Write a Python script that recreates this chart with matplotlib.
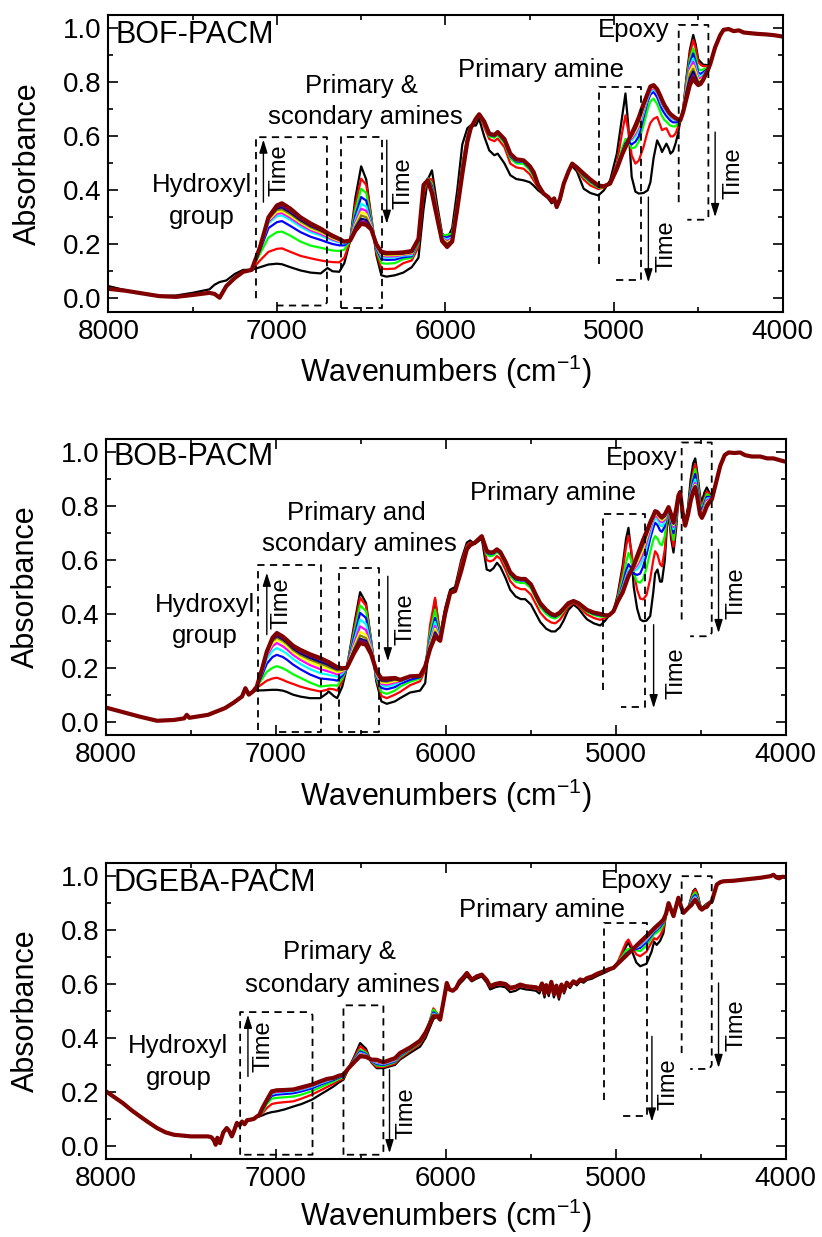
import matplotlib
matplotlib.use("Agg")
import matplotlib.pyplot as plt
from matplotlib.ticker import MultipleLocator, FixedLocator

plt.rcParams['font.family'] = ['Liberation Sans', 'DejaVu Sans']
plt.rcParams['mathtext.fontset'] = 'custom'
plt.rcParams['mathtext.rm'] = 'Liberation Sans'
plt.rcParams['mathtext.it'] = 'Liberation Sans:italic'
plt.rcParams['mathtext.bf'] = 'Liberation Sans:bold'

# ---------------------------------------------------------------- data
# curve order (time increasing): black, red, green, blue, cyan, magenta,
# yellow, olive, navy, purple, wine.  Each row: (wavenumber, values...);
# when a row lists fewer than 11 values, the remaining curves share the last one.
CURVE_COLORS = ['#000000', '#ff0000', '#00ff00', '#0000ff', '#00ffff', '#ff00ff',
                '#ffff00', '#808000', '#000080', '#800080', '#800000']

BOF_PACM = [
    (8000, .045, .035), (7900, .030, .028), (7800, .018), (7700, .008),
    (7600, .010, .005), (7500, .020, .012), (7400, .033, .020), (7370, .050, .016),
    (7340, .060, .002), (7300, .066, .045), (7250, .090, .075), (7200, .105, .098),
    (7150, .105),
    (7100, .115, .140, .165, .178, .183, .186, .188, .190),
    (7050, .125, .172, .225, .260, .278, .284, .289, .293, .296, .299, .300),
    (7000, .128, .183, .245, .282, .304, .313, .320, .327, .333, .339, .344),
    (6970, .126, .185, .247, .286, .307, .316, .323, .330, .337, .343, .352),
    (6920, .115, .172, .232, .268, .290, .298, .305, .312, .318, .324, .332),
    (6860, .103, .157, .210, .245, .265, .273, .280, .285, .290, .295, .300),
    (6800, .095, .148, .195, .228, .245, .252, .258, .263, .268, .272, .277),
    (6740, .092, .140, .187, .216, .232, .238, .244, .248, .252, .255, .258),
    (6700, .112, .136, .181, .207, .222, .227, .232, .235, .238, .240, .242),
    (6670, .100, .134, .177, .201, .214, .218, .222, .225, .228, .230, .232),
    (6630, .098, .133, .175, .196, .207, .210, .213, .216, .218, .219, .220),
    (6600, .130, .150, .180, .196, .203, .206, .208, .209, .210),
    (6565, .214),
    (6535, .370, .345, .325, .305, .290, .280, .272, .266, .260, .255, .250),
    (6500, .489, .443, .406, .375, .350, .332, .319, .307, .295, .286, .276),
    (6470, .440, .420, .390, .362, .340, .324, .312, .300, .290, .282, .272),
    (6440, .300, .300, .290, .280, .275, .270, .265, .262, .260, .257, .255),
    (6410, .160, .170, .180, .185, .190, .192, .194, .196, .198, .200),
    (6380, .085, .110, .130, .145, .153, .158, .162, .165, .167, .169, .172),
    (6350, .080, .108, .128, .142, .150, .155, .159, .162, .164, .166, .168),
    (6300, .085, .110, .130, .143, .151, .156, .160, .163, .165, .167, .168),
    (6250, .095, .130, .145, .152, .158, .161, .163, .165, .167, .168, .170),
    (6200, .115, .140, .150, .156, .160, .165, .168, .170, .172, .174, .175),
    (6160, .150, .190, .205, .212, .216, .218, .220),
    (6130, .330, .380, .400, .410, .415, .418, .420),
    (6105, .440, .445, .445, .443, .442, .441, .440, .439, .438, .437),
    (6080, .474, .440, .425, .415, .408, .402, .398, .395, .393, .391, .390),
    (6050, .350, .330, .320, .315, .312, .310, .308, .306, .304, .302, .300),
    (6020, .240, .235, .232, .228, .225, .222, .220, .218, .216, .214, .212),
    (5990, .220, .230, .235, .225, .218, .212, .206, .202, .198, .195, .190),
    (5960, .260, .240, .240, .232, .226, .222, .218, .215, .213, .211, .210),
    (5930, .400, .360, .350, .345, .340, .338, .336, .334, .333, .332, .330),
    (5900, .570, .500, .490, .482, .476, .472, .469, .466, .464, .462, .460),
    (5870, .630, .600, .595, .590, .587, .585, .583, .582, .581, .580),
    (5850, .641, .640, .637, .635, .633, .632, .631, .630),
    (5820, .640, .660, .662, .663, .664, .665),
    (5800, .665, .680, .682),
    (5770, .600, .635, .645, .650, .652, .654, .655),
    (5740, .548, .590, .600, .605, .607, .608, .609, .610),
    (5710, .530, .582, .595, .600, .602, .603, .604, .605),
    (5690, .536, .592, .605, .610, .612, .613, .614, .615, .616),
    (5650, .500, .560, .575, .582, .585, .587, .588, .589, .590),
    (5615, .456, .499, .518, .526, .530, .532, .533, .534, .535, .536),
    (5580, .442, .485, .500, .507, .510, .512, .513, .514, .515),
    (5536, .437, .480, .498, .505, .507, .508, .509, .510, .511),
    (5500, .430, .460, .475, .482, .485, .487, .488, .489, .490),
    (5477, .418, .437, .450, .458, .462, .464, .466, .467, .468),
    (5450, .400, .410, .415, .418, .419, .420),
    (5418, .385, .388), (5390, .370, .375), (5370, .352, .360), (5355, .362, .370),
    (5340, .335, .338), (5320, .360, .370), (5298, .420, .425), (5270, .470),
    (5248, .490, .497, .499),
    (5220, .470, .478, .482, .484, .485),
    (5180, .406, .440, .450, .455, .458, .460, .461, .462),
    (5140, .390, .418, .428, .433, .436, .438, .439, .440),
    (5093, .381, .405, .410, .413, .415, .416, .417, .418),
    (5060, .400, .410, .412, .413, .414, .415),
    (5023, .437, .430, .427, .426, .425),
    (4983, .536, .500, .490, .485, .482, .481, .481, .480),
    (4950, .680, .620, .560, .545, .540, .538, .537, .536, .536, .535),
    (4932, .759, .678, .590, .575, .568, .565, .563, .562, .561, .560),
    (4915, .640, .620, .585, .580, .585),
    (4895, .450, .530, .555, .570, .585, .592, .597, .601, .604, .607, .610),
    (4873, .395, .499, .560, .580, .600, .610, .618, .625, .630, .635, .640),
    (4853, .388, .510, .580, .600, .625, .635, .645, .653, .660, .665, .670),
    (4825, .390, .560, .640, .670, .685, .695, .702, .708, .713, .717, .720),
    (4800, .400, .620, .700, .730, .740, .747, .752, .755, .757, .759, .760),
    (4784, .430, .650, .730, .755, .765, .772, .777, .780, .782, .784, .785),
    (4765, .520, .665, .740, .765, .775, .780, .784, .786, .788, .789, .790),
    (4744, .585, .672, .720, .745, .760, .765, .769, .771, .773, .774, .775),
    (4725, .560, .640, .690, .715, .730, .737, .742, .745, .747, .748, .750),
    (4715, .542, .623, .675, .700, .715, .722, .726, .729, .731, .733, .735),
    (4700, .560, .628, .660, .685, .700, .705, .709, .711, .713, .714, .715),
    (4689, .573, .630, .655, .675, .690, .695, .699, .701, .703, .704, .705),
    (4675, .555, .612, .645, .665, .678, .683, .686, .688, .689, .690),
    (4665, .536, .600, .640, .658, .670, .675, .678, .680, .681, .682, .683),
    (4650, .545, .600, .637, .652, .663, .667, .670, .672, .673, .674, .675),
    (4635, .573, .610, .637, .652, .660, .662, .664, .665, .666, .667, .668),
    (4620, .610, .635, .650, .655, .660, .660, .661, .662, .662, .663),
    (4606, .660),
    (4590, .700, .690),
    (4570, .820, .810, .800, .790, .785, .780, .775, .770, .765, .755, .740),
    (4550, .920, .905, .885, .870, .860, .850, .840, .830, .815, .800, .790),
    (4530, .976, .957, .926, .907, .889, .876, .863, .851, .840, .827, .815),
    (4515, .940, .925, .895, .875, .860, .848, .837, .826, .818, .810, .800),
    (4500, .885, .875, .850, .835, .825, .815, .808, .802, .797, .793, .790),
    (4485, .875, .865, .845, .832, .822, .815, .808, .803, .800, .797, .795),
    (4470, .865, .860, .848, .838, .830, .824, .820, .817, .815, .813, .810),
    (4455, .865, .860, .852, .845, .840, .837, .835, .834, .832, .831, .830),
    (4440, .862, .860, .858, .856, .855, .854, .853, .852, .851, .850),
    (4428, .870), (4400, .930), (4370, .975), (4350, .995), (4320, .998),
    (4290, .990), (4260, .993), (4230, .985), (4200, .983), (4150, .980),
    (4100, .978), (4050, .975), (4000, .970),
]

BOB_PACM = [
    (8000, .052), (7900, .035), (7800, .018), (7700, .003), (7600, .006),
    (7540, .012), (7525, .025), (7510, .014), (7400, .025), (7300, .050),
    (7250, .070), (7200, .093), (7180, .124), (7160, .100), (7135, .112),
    (7113, .116, .125, .130),
    (7080, .116, .140, .160, .175, .185, .190, .195, .198, .200),
    (7054, .117, .152, .185, .215, .233, .245, .252, .257, .260),
    (7020, .118, .160, .200, .240, .263, .280, .291, .299, .305, .309, .312),
    (6995, .118, .163, .206, .248, .273, .292, .304, .312, .318, .323, .329),
    (6960, .115, .155, .198, .240, .262, .280, .292, .300, .306, .311, .316),
    (6936, .110, .148, .190, .230, .252, .268, .280, .288, .294, .299, .303),
    (6900, .100, .140, .176, .212, .233, .248, .258, .266, .272, .277, .282),
    (6858, .093, .130, .163, .195, .215, .230, .240, .248, .254, .260, .267),
    (6800, .087, .120, .145, .175, .195, .210, .220, .230, .237, .244, .250),
    (6740, .087, .112, .130, .160, .180, .195, .205, .215, .222, .230, .236),
    (6700, .105, .118, .133, .158, .175, .188, .198, .206, .213, .219, .224),
    (6690, .112, .122, .134, .157, .173, .186, .195, .203, .210, .216, .221),
    (6660, .095, .120, .135, .155, .170, .180, .188, .195, .200, .205, .210),
    (6640, .087, .115, .133, .152, .166, .175, .183, .190, .195, .199, .202),
    (6610, .130, .150, .160, .170, .178, .184, .188, .192, .195, .197, .198),
    (6583, .200),
    (6540, .360, .345, .330, .315, .300, .290, .280, .272, .265, .260, .255),
    (6505, .481, .460, .432, .404, .379, .354, .333, .320, .308, .302, .292),
    (6470, .440, .430, .410, .385, .362, .340, .322, .310, .300, .294, .285),
    (6440, .300, .300, .295, .288, .282, .276, .270, .265, .260, .255, .250),
    (6410, .150, .160, .165, .170, .175, .178, .181, .184, .186, .188, .190),
    (6380, .075, .095, .110, .125, .135, .140, .145, .150, .153, .156, .160),
    (6348, .066, .087, .103, .120, .130, .137, .143, .148, .152, .156, .160),
    (6300, .075, .100, .115, .128, .138, .145, .150, .155, .158, .160, .162),
    (6270, .087, .110, .130, .140, .147, .150, .152, .153, .154, .155),
    (6211, .108, .135, .148, .155, .165, .166, .167, .168),
    (6152, .115, .150, .160, .165, .172, .171, .170),
    (6122, .143, .190, .200, .205),
    (6093, .330, .360, .330, .310, .300, .290, .285, .280, .275, .272, .270),
    (6064, .455, .460, .416, .385, .370, .355, .345, .335, .330, .325, .315),
    (6034, .320, .320, .315, .310, .308, .306, .305, .304, .303, .302, .300),
    (6005, .420, .410, .405, .402, .400),
    (5975, .490, .482, .480, .479, .478),
    (5946, .500, .490, .487, .486, .485),
    (5910, .600, .590, .575, .568, .565, .563, .562, .561, .560),
    (5877, .665, .655, .648, .645, .643, .642, .641, .640),
    (5858, .673, .665, .660, .658, .657, .656, .655),
    (5830, .660, .665),
    (5789, .680, .685, .687, .688, .689),
    (5760, .565, .600, .620, .628, .632, .634, .635),
    (5740, .560, .595, .614, .622, .625, .627, .628),
    (5720, .570, .600, .618, .625, .628, .629, .630),
    (5700, .590, .615, .630, .635, .638, .639, .640),
    (5680, .575, .605, .620, .625, .628, .629, .630),
    (5650, .535, .565, .582, .589, .592, .594, .595),
    (5622, .490, .522, .540, .548, .552, .554, .555),
    (5590, .465, .500, .520, .528, .532, .534, .535),
    (5560, .455, .492, .515, .524, .528, .530),
    (5534, .455, .492, .515, .524, .528, .530),
    (5500, .435, .472, .495, .504, .508, .510),
    (5470, .400, .435, .456, .464, .468, .470),
    (5445, .370, .405, .425, .433, .437, .440),
    (5410, .345, .380, .400, .408, .412, .415),
    (5380, .335, .368, .387, .394, .398, .400),
    (5357, .335, .365, .383, .390, .393, .395),
    (5330, .350, .378, .394, .400, .403, .405),
    (5308, .375, .398, .410, .415, .418, .420),
    (5280, .415, .428, .435, .438, .440),
    (5249, .435, .442, .445, .447, .448),
    (5220, .420, .430, .436, .439, .440),
    (5190, .395, .410, .418, .422, .425),
    (5170, .380, .398, .407, .412, .415),
    (5130, .365, .385, .396, .400, .403, .405),
    (5092, .357, .378, .390, .395, .398, .400),
    (5063, .375, .385, .390, .393, .395),
    (5040, .395), (5014, .410),
    (4990, .470, .460, .455, .450, .448, .447, .446, .446, .445),
    (4960, .580, .560, .530, .510, .500, .495, .490, .487, .485, .482, .480),
    (4940, .680, .650, .590, .560, .540, .530, .520, .517, .515),
    (4926, .720, .690, .627, .585, .565, .555, .550, .545, .542, .541, .540),
    (4910, .630, .640, .600, .570, .565, .562, .560),
    (4895, .500, .560, .550, .550, .560, .565, .570, .573, .576, .578, .580),
    (4875, .420, .490, .520, .545, .565, .580, .590, .600, .606, .610, .615),
    (4857, .380, .457, .516, .550, .580, .600, .615, .627, .635, .640, .645),
    (4840, .373, .454, .530, .575, .605, .625, .640, .652, .662, .668, .675),
    (4820, .375, .470, .570, .620, .645, .665, .680, .690, .695, .700, .705),
    (4798, .392, .530, .630, .680, .700, .715, .725, .730, .735, .738, .740),
    (4780, .480, .600, .675, .720, .740, .750, .755, .760, .762, .764, .765),
    (4769, .550, .633, .689, .739, .755, .765, .772, .776, .779, .781, .782),
    (4755, .565, .620, .680, .730, .750, .760, .768, .772, .775, .777, .778),
    (4740, .520, .585, .660, .710, .730, .745, .752, .758, .761, .763, .765),
    (4729, .520, .577, .655, .705, .725, .740, .747, .752, .756, .758, .760),
    (4712, .600, .640, .690, .725, .740, .750, .757, .762, .765, .767, .770),
    (4700, .720, .740, .760, .770, .775, .778, .780, .782, .783, .784, .785),
    (4690, .780, .790, .795, .796, .797),
    (4675, .680, .700, .720, .740, .750, .757, .762, .765, .767, .768, .770),
    (4661, .628, .650, .675, .700, .715, .723, .730, .734, .737, .739, .740),
    (4645, .720, .740, .755, .765, .775, .780, .783, .785, .787, .788, .790),
    (4632, .830, .832, .835, .837, .838, .839, .839, .840),
    (4622, .852, .853),
    (4608, .760, .765, .770, .775, .777, .778, .779, .780),
    (4592, .740, .730, .730, .730, .729, .729, .728),
    (4575, .800, .785, .780, .775, .773, .772, .771, .771, .770),
    (4560, .900, .870, .860, .850, .840, .835, .830, .827, .824, .822, .820),
    (4545, .960, .930, .910, .895, .880, .870, .865, .862, .859, .857, .855),
    (4533, .978, .957, .938, .920, .900, .887, .880, .876, .873, .871, .870),
    (4520, .920, .905, .890, .870, .855, .848, .843, .838, .835, .832, .830),
    (4505, .840, .825, .810, .800, .790, .785, .780, .777, .774, .772, .770),
    (4494, .814, .800, .790, .780, .772, .768, .765, .762, .760, .758, .757),
    (4480, .850, .830, .820, .810, .800, .795, .790, .785, .780, .778, .775),
    (4465, .870, .855, .845, .835, .828, .822, .815, .810, .806, .803, .800),
    (4450, .850, .845, .840, .835, .830, .826, .822, .820, .818, .816, .815),
    (4435, .835, .830, .828, .827, .826),
    (4410, .890), (4386, .950), (4360, .990), (4337, 1.000), (4300, .998),
    (4269, 1.000), (4240, .990), (4200, .985), (4151, .985), (4110, .978),
    (4073, .978), (4040, .972), (4004, .966),
]

DGEBA_PACM = [
    (8000, .202), (7950, .180), (7900, .158), (7850, .132), (7800, .109),
    (7750, .087), (7700, .066), (7650, .050), (7600, .041), (7500, .035),
    (7400, .035), (7380, .032), (7365, .020), (7355, .004), (7345, .030),
    (7330, .010), (7310, .050), (7290, .066), (7275, .055), (7260, .035),
    (7250, .050), (7230, .085), (7215, .075), (7200, .090), (7185, .080),
    (7170, .095), (7150, .097), (7130, .100), (7110, .110), (7100, .109, .112),
    (7080, .113, .120, .125, .130, .133, .135, .137, .138, .139, .140),
    (7054, .120, .140, .155, .162, .165, .167, .168, .169, .170),
    (7025, .125, .155, .175, .185, .192, .196, .199, .200, .201, .202),
    (6995, .128, .159, .178, .190, .197, .200, .203, .205, .206),
    (6950, .135, .162, .180, .192, .199, .202, .205, .206, .207),
    (6897, .146, .165, .183, .195, .202, .205, .207, .208, .209),
    (6850, .155, .175, .190, .202, .208, .211, .214, .215, .216, .217),
    (6789, .171, .190, .203, .213, .219, .222, .224, .225, .226, .227),
    (6740, .190, .205, .217, .226, .231, .234, .236, .237, .238, .239),
    (6700, .205, .218, .228, .236, .240, .243, .245, .246, .247, .248),
    (6662, .220, .230, .238, .244, .248, .250, .251, .252),
    (6630, .235, .242, .248, .253, .256, .258, .259, .260),
    (6603, .245, .250, .255, .258, .261, .262, .263, .264),
    (6573, .288),
    (6540, .330, .325, .320, .318, .316, .314, .312, .311, .310),
    (6505, .381, .369, .356, .350, .345, .342, .339, .337, .335, .334, .332),
    (6470, .360, .352, .345, .340, .337, .335, .333, .332, .331, .330),
    (6440, .310, .312, .315, .316, .317, .318, .319, .320),
    (6407, .288, .292, .298, .303, .307, .310, .313, .315, .317, .318, .319),
    (6368, .288, .292, .296, .300, .303, .305, .307, .308, .309, .310),
    (6300, .300, .305, .310, .313, .316, .318, .320, .322, .323, .324, .325),
    (6270, .320, .325, .330, .334, .337, .339, .341, .342, .343, .344),
    (6210, .345, .352, .357, .360, .362, .364, .365),
    (6152, .368, .378, .383, .386, .388, .390),
    (6120, .400, .410, .415, .418, .420),
    (6074, .470, .510, .505, .495, .490, .487, .485, .483, .482, .481, .480),
    (6050, .480, .490, .488, .485, .483, .481, .480),
    (6034, .468), (6010, .550), (5995, .604), (5980, .580), (5960, .575),
    (5940, .585),
    (5920, .600, .605, .610), (5897, .615, .620, .625), (5877, .630, .637, .641),
    (5848, .610, .614, .616), (5820, .620, .625, .628), (5789, .628, .632, .635),
    (5760, .605, .612, .615), (5740, .580, .588, .592), (5710, .588, .596, .600),
    (5681, .592, .600, .604), (5650, .588, .596, .600), (5622, .570, .580, .586),
    (5590, .575, .585, .590), (5563, .585, .593, .598), (5530, .580, .588, .592),
    (5500, .578, .585, .590), (5470, .575, .583, .588), (5450, .565, .575, .580),
    (5435, .590, .598, .602), (5420, .550, .560, .565), (5410, .585, .592, .596),
    (5395, .555, .565, .570), (5380, .600, .605, .608), (5365, .550, .560, .565),
    (5350, .580, .590, .594), (5335, .542, .550, .555), (5320, .590, .595, .598),
    (5305, .565, .570, .575), (5289, .598, .602, .605), (5270, .585, .590, .593),
    (5250, .605, .608, .610), (5230, .595, .600, .603), (5210, .610, .614, .617),
    (5190, .605, .610, .613), (5170, .615, .619, .622), (5140, .620, .625, .628),
    (5110, .630, .635, .638), (5073, .640, .644, .647), (5040, .650, .653, .655),
    (5014, .660),
    (4990, .680, .680, .678, .677, .676, .675),
    (4960, .710, .725, .705, .698, .696, .695, .694, .694, .693),
    (4940, .740, .755, .725, .713, .709, .707, .706, .706, .705),
    (4926, .755, .765, .730, .720, .717, .716, .715, .715, .714),
    (4910, .730, .745, .730, .725, .724, .723),
    (4880, .680, .710, .725, .730, .735, .737, .739, .740, .741, .741, .742),
    (4857, .666, .703, .722, .734, .742, .747, .750, .752, .754, .755, .756),
    (4820, .675, .720, .742, .755, .763, .768, .771, .773, .775, .777, .778),
    (4790, .720, .755, .770, .780, .786, .789, .791, .793, .794, .795, .796),
    (4775, .757, .770, .785, .792, .797, .800, .802, .803, .804, .805, .806),
    (4760, .745, .765, .790, .800, .804, .806, .808, .810, .812, .814, .815),
    (4740, .760, .780, .800, .812, .818, .821, .823, .824, .825, .825, .826),
    (4720, .789, .805, .820, .828, .832, .834, .836, .837, .838, .838, .839),
    (4705, .860), (4690, .900), (4675, .875), (4661, .850, .852), (4645, .890),
    (4632, .920), (4615, .885), (4602, .862, .864), (4585, .875),
    (4570, .890, .888, .887, .886, .885),
    (4555, .925, .920, .913, .907, .903, .900, .898, .896, .895, .894, .893),
    (4545, .945, .940, .930, .922, .916, .912, .909, .907, .905, .904, .903),
    (4533, .953, .950, .940, .930, .924, .920, .917, .915, .914, .913, .912),
    (4520, .935, .930, .922, .915, .910, .906, .904, .902, .901, .900),
    (4505, .895, .893, .890, .887, .885, .884, .883, .882),
    (4494, .880, .878, .877, .876),
    (4480, .890, .888, .886, .885, .884, .883),
    (4465, .898, .896, .894, .892, .890, .889, .888, .887, .886),
    (4450, .900), (4435, .907), (4420, .940), (4406, .969), (4385, .978),
    (4367, .981), (4308, .983), (4250, .987), (4210, .990), (4150, .994),
    (4112, .998), (4090, 1.000), (4073, 1.005), (4055, .995), (4040, .992),
    (4020, .998), (4004, .997),
]

PANEL_NAMES = ['BOF-PACM', 'BOB-PACM', 'DGEBA-PACM']
X_TICKS = [8000, 7000, 6000, 5000, 4000]
Y_TICKS = [0.0, 0.2, 0.4, 0.6, 0.8, 1.0]


def expand(rows, n=11):
    wn = [r[0] for r in rows]
    cols = [[] for _ in range(n)]
    for r in rows:
        vals = list(r[1:])
        vals += [vals[-1]] * (n - len(vals))
        for c, v in zip(cols, vals):
            c.append(v)
    return wn, cols


# ---------------------------------------------------------------- figure
fig = plt.figure(figsize=(8.22, 12.37), dpi=100)
rects = [[0.1318, 0.748, 0.8202, 0.2399],
         [0.1290, 0.4058, 0.8270, 0.2393],
         [0.1290, 0.0628, 0.8270, 0.2398]]
axes = [fig.add_axes(r) for r in rects]

TICK_FS = 20
LABEL_FS = 22
ANN_FS = 18.5
TIME_FS = 17


def draw_box(ax, pts):
    xs, ys = zip(*pts)
    ax.plot(xs, ys, color='k', lw=1.3, ls=(0, (4.0, 3.0)), zorder=5)


def time_arrow(ax, x, y0, y1, tx, ty):
    ax.annotate('', xy=(x, y1), xytext=(x, y0),
                arrowprops=dict(arrowstyle='-|>,head_length=0.8,head_width=0.25',
                                color='k', lw=1.0, shrinkA=0, shrinkB=0), zorder=6)
    ax.text(tx, ty, 'Time', rotation=90, fontsize=TIME_FS, ha='center', va='center')


for k, (ax, rows, name) in enumerate(zip(axes, [BOF_PACM, BOB_PACM, DGEBA_PACM], PANEL_NAMES)):
    wn, curves = expand(rows)
    for i, (vals, col) in enumerate(zip(curves, CURVE_COLORS)):
        lw = 3.0 if i == len(curves) - 1 else 1.6
        ax.plot(wn, vals, color=col, lw=lw, zorder=2 + i * 0.01,
                solid_joinstyle='round')
    ax.set_xlim(8000, 4000)
    ax.set_ylim(-0.05, 1.05)
    ax.xaxis.set_major_locator(FixedLocator(X_TICKS))
    ax.xaxis.set_minor_locator(MultipleLocator(500))
    ax.yaxis.set_major_locator(FixedLocator(Y_TICKS))
    ax.yaxis.set_minor_locator(MultipleLocator(0.1))
    ax.set_xticklabels([str(t) for t in X_TICKS])
    ax.set_yticklabels(['%.1f' % t for t in Y_TICKS])
    ax.tick_params(which='both', direction='in', top=True, right=True,
                   labelsize=TICK_FS, width=1.2, pad=5)
    ax.tick_params(which='major', length=7)
    ax.tick_params(which='minor', length=3.5)
    for s in ax.spines.values():
        s.set_linewidth(1.5)
    ax.set_xlabel('Wavenumbers (cm$^{-1}$)', fontsize=LABEL_FS,
                  labelpad=6 if k < 2 else 3)
    ax.set_ylabel('Absorbance', fontsize=LABEL_FS, labelpad=14)
    ax.text(7955, 0.975 if name != 'BOB-PACM' else 0.985, name, fontsize=22,
            ha='left', va='center')

# ---- panel 1 annotations
a = axes[0]
a.text(7443, 0.418, 'Hydroxyl', fontsize=ANN_FS, ha='center', va='center')
a.text(7443, 0.300, 'group', fontsize=ANN_FS, ha='center', va='center')
a.text(6498, 0.786, 'Primary &', fontsize=ANN_FS, ha='center', va='center')
a.text(6477, 0.671, 'scondary amines', fontsize=ANN_FS, ha='center', va='center')
a.text(5433, 0.846, 'Primary amine', fontsize=ANN_FS, ha='center', va='center')
a.text(4884, 0.994, 'Epoxy', fontsize=ANN_FS, ha='center', va='center')
draw_box(a, [(7124, 0.0), (7124, 0.597), (6703, 0.597), (6703, -0.015),
             (6715, -0.027), (7000, -0.027)])
draw_box(a, [(6621, -0.036), (6621, 0.598), (6378, 0.598), (6378, -0.036), (6621, -0.036)])
draw_box(a, [(5087, 0.128), (5087, 0.784), (4841, 0.784), (4841, 0.066), (4994, 0.066)])
draw_box(a, [(4616, 0.356), (4616, 1.013), (4440, 1.013), (4440, 0.30),
             (4455, 0.291), (4565, 0.291)])
time_arrow(a, 7080, 0.356, 0.588, 6985, 0.474)
time_arrow(a, 6348, 0.586, 0.276, 6246, 0.426)
time_arrow(a, 4796, 0.375, 0.059, 4687, 0.192)
time_arrow(a, 4400, 0.616, 0.301, 4292, 0.462)

# ---- panel 2 annotations
a = axes[1]
a.text(7417, 0.435, 'Hydroxyl', fontsize=ANN_FS, ha='center', va='center')
a.text(7417, 0.317, 'group', fontsize=ANN_FS, ha='center', va='center')
a.text(6529, 0.776, 'Primary and', fontsize=ANN_FS, ha='center', va='center')
a.text(6511, 0.658, 'scondary amines', fontsize=ANN_FS, ha='center', va='center')
a.text(5369, 0.851, 'Primary amine', fontsize=ANN_FS, ha='center', va='center')
a.text(4847, 0.978, 'Epoxy', fontsize=ANN_FS, ha='center', va='center')
draw_box(a, [(7103, -0.03), (7103, 0.581), (6736, 0.581), (6736, -0.037), (7006, -0.037)])
draw_box(a, [(6631, -0.037), (6631, 0.569), (6396, 0.569), (6396, -0.037), (6631, -0.037)])
draw_box(a, [(5078, 0.118), (5078, 0.773), (4826, 0.773), (4826, 0.054), (4972, 0.054)])
draw_box(a, [(4613, 0.379), (4613, 1.037), (4436, 1.037), (4436, 0.33),
             (4450, 0.317), (4563, 0.317)])
time_arrow(a, 7054, 0.323, 0.553, 6965, 0.441)
time_arrow(a, 6342, 0.540, 0.224, 6240, 0.379)
time_arrow(a, 4778, 0.360, 0.050, 4645, 0.180)
time_arrow(a, 4396, 0.640, 0.329, 4288, 0.478)

# ---- panel 3 annotations
a = axes[2]
a.text(7574, 0.371, 'Hydroxyl', fontsize=ANN_FS, ha='center', va='center')
a.text(7574, 0.251, 'group', fontsize=ANN_FS, ha='center', va='center')
a.text(6629, 0.718, 'Primary &', fontsize=ANN_FS, ha='center', va='center')
a.text(6608, 0.598, 'scondary amines', fontsize=ANN_FS, ha='center', va='center')
a.text(5434, 0.876, 'Primary amine', fontsize=ANN_FS, ha='center', va='center')
a.text(4880, 0.981, 'Epoxy', fontsize=ANN_FS, ha='center', va='center')
draw_box(a, [(7211, -0.033), (7211, 0.496), (6800, 0.496), (6785, 0.485),
             (6785, -0.033), (7190, -0.033)])
draw_box(a, [(6603, -0.033), (6603, 0.521), (6368, 0.521), (6368, -0.02),
             (6380, -0.033), (6603, -0.033)])
draw_box(a, [(5067, 0.171), (5067, 0.827), (4817, 0.827), (4817, 0.111), (4984, 0.111)])
draw_box(a, [(4613, 0.344), (4613, 1.0), (4436, 1.0), (4436, 0.30),
             (4450, 0.285), (4563, 0.285)])
time_arrow(a, 7165, 0.257, 0.486, 7074, 0.369)
time_arrow(a, 6332, 0.282, -0.027, 6234, 0.121)
time_arrow(a, 4788, 0.406, 0.090, 4690, 0.227)
time_arrow(a, 4396, 0.604, 0.289, 4288, 0.449)

fig.savefig('out.png', dpi=100)
